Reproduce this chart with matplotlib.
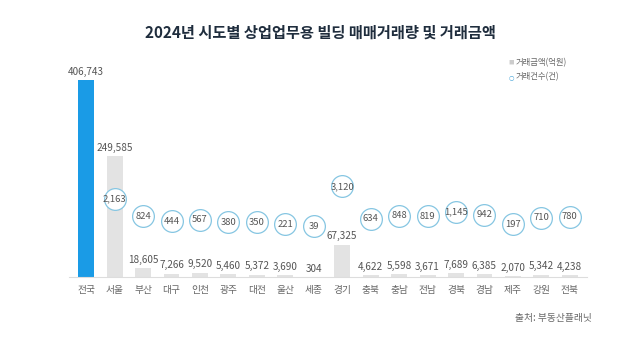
import matplotlib.pyplot as plt
import numpy as np

plt.rcParams['font.family'] = ['Noto Sans CJK KR', 'DejaVu Sans']

regions = ["전국", "서울", "부산", "대구", "인천", "광주", "대전", "울산", "세종",
           "경기", "충북", "충남", "전남", "경북", "경남", "제주", "강원", "전북"]
amounts = [406743, 249585, 18605, 7266, 9520, 5460, 5372, 3690, 304,
           67325, 4622, 5598, 3671, 7689, 6385, 2070, 5342, 4238]
counts = [None, 2163, 824, 444, 567, 380, 350, 221, 39,
          3120, 634, 848, 819, 1145, 942, 197, 710, 780]

fig = plt.figure(figsize=(6.4, 3.43), dpi=100)
ax = fig.add_axes([0.108, 0.192, 0.809, 0.636])
x = np.arange(len(regions))

colors = ["#1a9be6"] + ["#e3e3e3"] * (len(regions) - 1)
ax.bar(x, amounts, width=0.56, color=colors, zorder=1)
for xi, v in zip(x, amounts):
    ax.text(xi, v + 7000, f"{v:,}", ha="center", va="bottom", fontsize=7.2, color="#555555")

ax.set_xlim(-0.6, len(regions) - 0.4)
ax.set_ylim(0, 450000)
ax.set_yticks([])
ax.set_xticks(x)
ax.set_xticklabels(regions, fontsize=7, color="#666666")
ax.tick_params(axis="x", length=0, pad=6)
for s in ["top", "right", "left"]:
    ax.spines[s].set_visible(False)
ax.spines["bottom"].set_color("#dddddd")
ax.spines["bottom"].set_linewidth(0.8)

# secondary axis for transaction counts
ax2 = ax.twinx()
ax2.set_ylim(-3850, 12900)
ax2.set_yticks([])
for s in ax2.spines.values():
    s.set_visible(False)
cx = [xi for xi, c in zip(x, counts) if c is not None]
cy = [c for c in counts if c is not None]
ax2.scatter(cx, cy, s=245, facecolor="white", edgecolor="#86c6e2", linewidth=0.9, zorder=3)
for xi, c in zip(cx, cy):
    ax2.text(xi, c, f"{c:,}", ha="center", va="center", fontsize=6.8, color="#555555", zorder=4)

fig.text(0.5, 0.905, "2024년 시도별 상업업무용 빌딩 매매거래량 및 거래금액",
         ha="center", va="center", fontsize=11, fontweight="bold", color="#1f2d3d")

# legend
fig.text(0.795, 0.818, "■", ha="left", va="center", fontsize=4, color="#cccccc")
fig.text(0.806, 0.818, "거래금액(억원)", ha="left", va="center", fontsize=6, color="#666666")
fig.text(0.795, 0.775, "○", ha="left", va="center", fontsize=4.5, color="#3b9fd6",
         family="DejaVu Sans")
fig.text(0.806, 0.775, "거래건수(건)", ha="left", va="center", fontsize=6, color="#666666")

fig.text(0.805, 0.073, "출처: 부동산플래닛", ha="left", va="center", fontsize=7, color="#666666")

plt.savefig("out.png", dpi=100, facecolor="white")
